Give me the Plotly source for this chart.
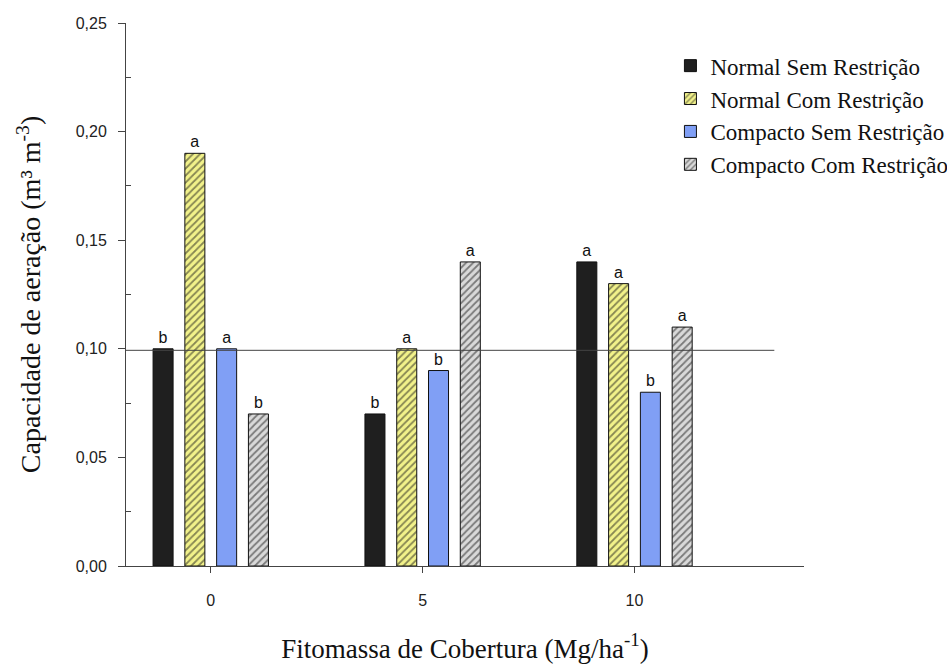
import plotly.graph_objects as go

fitomassa = [0, 5, 10]
series_names = ["Normal Sem Restrição", "Normal Com Restrição",
                "Compacto Sem Restrição", "Compacto Com Restrição"]
normal_sem = [0.10, 0.07, 0.14]
normal_com = [0.19, 0.10, 0.13]
compacto_sem = [0.10, 0.09, 0.08]
compacto_com = [0.07, 0.14, 0.11]
letras_normal_sem = ["b", "b", "a"]
letras_normal_com = ["a", "a", "a"]
letras_compacto_sem = ["a", "b", "b"]
letras_compacto_com = ["b", "a", "a"]
linha_ref = 0.0993

values = [normal_sem, normal_com, compacto_sem, compacto_com]
letters = [letras_normal_sem, letras_normal_com, letras_compacto_sem, letras_compacto_com]
styles = [
    dict(color="#1f1f1f", pattern=None),
    dict(color="#f2f28a", pattern=dict(shape="/", fgcolor="#1a1a1a", size=5, solidity=0.35)),
    dict(color="#809ff5", pattern=None),
    dict(color="#d9d9d9", pattern=dict(shape="/", fgcolor="#1a1a1a", size=5, solidity=0.35)),
]

SERIF = "Liberation Serif"
SANS = "Liberation Sans"

fig = go.Figure()
for name, vals, lets, st in zip(series_names, values, letters, styles):
    marker = dict(color=st["color"], line=dict(color="#111", width=1))
    if st["pattern"]:
        marker["pattern"] = st["pattern"]
    fig.add_trace(go.Bar(
        x=fitomassa, y=vals, name=name, marker=marker,
        text=lets, textposition="outside", cliponaxis=False,
        textfont=dict(family=SANS, size=16, color="#111"),
    ))

fig.add_shape(type="line", xref="x", yref="y", x0=-2, x1=13.3,
              y0=linha_ref, y1=linha_ref, line=dict(color="#444", width=1), layer="above")

fig.update_layout(
    width=947, height=672,
    margin=dict(l=126, r=143, t=23, b=106, autoexpand=False),
    plot_bgcolor="white", paper_bgcolor="white",
    barmode="group", bargap=0.4, bargroupgap=0.37,
    separators=",.",
    showlegend=True,
    legend=dict(x=0.803, y=0.961, xanchor="left", yanchor="top",
                font=dict(family=SERIF, size=23, color="#111"),
                bgcolor="rgba(0,0,0,0)", itemwidth=30, tracegroupgap=0),
    xaxis=dict(range=[-2, 14], tickvals=fitomassa, ticktext=[str(v) for v in fitomassa],
               showgrid=False, zeroline=False, showline=True, linecolor="#444", linewidth=1,
               ticks="outside", ticklen=6, tickcolor="#444", ticklabelstandoff=14,
               tickfont=dict(family=SANS, size=16, color="#222"),
               title=dict(text="Fitomassa de Cobertura (Mg/ha<sup>-1</sup>)", standoff=30,
                          font=dict(family=SERIF, size=27, color="#111"))),
    yaxis=dict(range=[0, 0.25], tickvals=[0, 0.05, 0.10, 0.15, 0.20, 0.25], tickformat=".2f",
               showgrid=False, zeroline=False, showline=True, linecolor="#444", linewidth=1,
               ticks="outside", ticklen=7, tickcolor="#444", ticklabelstandoff=8,
               minor=dict(tickvals=[0.025, 0.075, 0.125, 0.175, 0.225], ticks="inside", ticklen=5,
                          tickcolor="#444", showgrid=False),
               tickfont=dict(family=SANS, size=16, color="#222"),
               title=dict(text="Capacidade de aeração (m³ m<sup>-3</sup>)", standoff=26,
                          font=dict(family=SERIF, size=28, color="#111"))),
)

fig.write_html("out.html")
